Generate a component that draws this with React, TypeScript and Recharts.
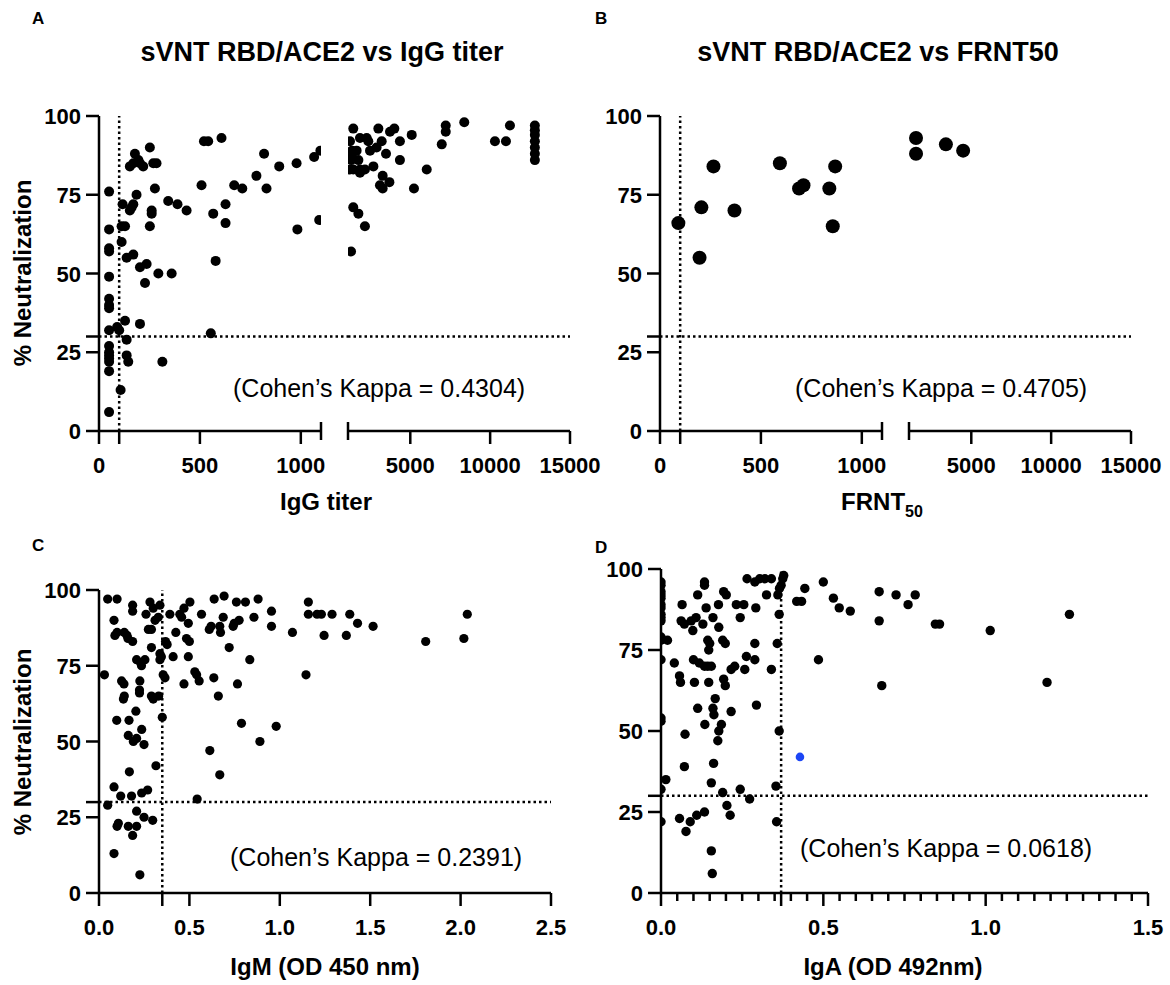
import React from 'react';
import { ScatterChart, Scatter, XAxis, YAxis, ReferenceLine } from 'recharts';

// [x, % neutralization] pairs
const iggTiterPoints: [number, number][] = [
  [50, 76], [50, 64], [50, 58], [50, 57], [50, 49], [50, 42], [50, 40], [50, 39], [50, 32],
  [50, 27], [50, 25], [50, 24], [50, 23], [50, 22], [50, 19], [50, 6],
  [90, 33], [100, 32], [112, 65], [129, 65], [117, 72], [112, 60], [137, 55], [129, 35],
  [137, 29], [137, 24], [145, 22], [107, 13], [153, 84], [178, 88], [162, 71], [170, 72],
  [153, 70], [186, 75], [195, 86], [170, 85], [203, 85], [170, 56], [203, 52], [236, 53],
  [228, 47], [219, 84], [252, 90], [269, 85], [285, 85], [277, 77], [261, 70], [261, 69],
  [252, 65], [203, 34], [294, 50], [314, 22], [343, 73], [360, 50], [389, 72], [434, 70],
  [508, 78], [520, 92], [541, 92], [554, 31], [566, 69], [578, 54], [607, 93], [627, 72],
  [627, 66], [670, 78], [710, 77], [780, 81], [818, 88], [830, 77], [893, 84], [979, 85],
  [983, 64], [1066, 87], [1097, 89], [1091, 67],
  [1430, 96], [1225, 92], [1850, 93], [2370, 92], [2270, 93], [1350, 89], [1350, 87],
  [1300, 86], [1640, 89], [1750, 86], [1430, 83], [1225, 83], [1850, 83], [1850, 82],
  [2160, 83], [2690, 84], [2480, 89], [2890, 90], [3210, 92], [3000, 96], [3730, 95],
  [4000, 96], [3480, 88], [4350, 92], [4350, 86], [5090, 94], [3270, 81], [3690, 79],
  [3100, 78], [3270, 77], [5230, 77], [6030, 83], [6970, 91], [7220, 97], [7220, 95],
  [8380, 98], [10300, 92], [10990, 92], [11240, 97],
  [12800, 97], [12800, 95.5], [12800, 94], [12800, 92], [12800, 90], [12800, 88], [12800, 86],
  [1430, 71], [1750, 69], [2160, 65], [1290, 57],
];

const frnt50Points: [number, number][] = [
  [91, 66], [205, 71], [196, 55], [265, 84], [369, 70], [594, 85], [689, 77], [711, 78],
  [839, 77], [868, 84], [856, 65], [1540, 93], [1540, 88], [3410, 91], [4490, 89],
];

const igmPoints: [number, number][] = [
  [0.048, 97], [0.1, 97], [0.03, 72], [0.083, 90], [0.088, 85], [0.1, 86], [0.14, 86],
  [0.155, 85], [0.16, 84], [0.186, 95], [0.186, 93], [0.186, 83], [0.208, 77], [0.23, 76],
  [0.235, 75], [0.254, 77], [0.26, 92], [0.282, 96], [0.3, 94], [0.31, 90], [0.29, 87],
  [0.273, 87], [0.328, 91], [0.337, 95], [0.29, 81], [0.337, 79], [0.345, 78], [0.337, 77],
  [0.368, 83], [0.377, 82], [0.392, 92], [0.41, 78], [0.355, 72], [0.365, 71], [0.425, 86],
  [0.447, 92], [0.457, 91], [0.47, 94], [0.503, 96], [0.494, 89], [0.484, 84], [0.5, 83],
  [0.494, 78], [0.47, 69], [0.53, 73], [0.54, 72], [0.554, 70], [0.567, 92], [0.61, 87],
  [0.62, 88], [0.637, 97], [0.635, 71], [0.668, 88], [0.672, 86], [0.692, 98], [0.687, 91],
  [0.66, 65], [0.72, 81], [0.742, 88], [0.748, 89], [0.76, 96], [0.775, 90], [0.766, 69],
  [0.81, 96], [0.834, 77], [0.857, 91], [0.88, 97], [0.954, 93], [0.954, 88], [1.07, 86],
  [0.788, 56], [0.89, 50], [0.98, 55], [0.613, 47], [0.668, 39], [0.543, 31],
  [0.125, 70], [0.138, 69], [0.14, 65], [0.135, 64], [0.226, 70], [0.224, 67], [0.224, 66],
  [0.29, 65], [0.3, 64], [0.33, 65], [0.204, 60], [0.098, 57], [0.166, 57], [0.162, 52],
  [0.19, 50], [0.208, 51], [0.236, 54], [0.249, 49], [0.35, 58], [0.315, 42], [0.168, 40],
  [0.083, 35], [0.12, 32], [0.048, 29], [0.18, 32], [0.236, 33], [0.269, 34], [0.1, 22],
  [0.107, 23], [0.162, 22], [0.186, 19], [0.208, 27], [0.208, 22], [0.249, 25], [0.297, 24],
  [0.083, 13], [0.226, 6],
  [1.158, 96], [1.158, 92], [1.206, 92], [1.23, 92], [1.289, 92], [1.245, 85], [1.368, 85],
  [1.387, 92], [1.43, 89], [1.516, 88], [1.807, 83], [2.018, 84], [2.037, 92], [1.145, 72],
];

const igaPoints: [number, number][] = [
  [0, 96], [0, 95], [0, 93], [0, 92], [0, 91], [0, 89], [0, 88], [0, 86], [0, 85], [0, 84],
  [0, 79], [0, 78], [0, 72], [0, 54], [0, 53], [0, 32], [0, 22],
  [0.02, 78], [0.015, 35], [0.041, 71], [0.057, 67], [0.06, 65], [0.065, 89], [0.062, 84],
  [0.072, 83], [0.093, 84], [0.108, 85], [0.098, 81], [0.113, 92], [0.1, 72], [0.118, 71],
  [0.134, 70], [0.103, 65], [0.113, 57], [0.074, 49], [0.072, 39], [0.057, 23], [0.077, 19],
  [0.09, 22], [0.11, 24], [0.134, 25], [0.129, 83], [0.134, 96], [0.134, 95], [0.139, 88],
  [0.144, 78], [0.15, 77], [0.147, 75], [0.144, 70], [0.155, 70], [0.147, 65], [0.135, 52],
  [0.16, 85], [0.167, 60], [0.16, 57], [0.163, 55], [0.162, 40], [0.155, 34], [0.155, 13],
  [0.158, 6], [0.178, 82], [0.177, 89], [0.193, 93], [0.201, 92], [0.19, 78], [0.198, 77],
  [0.186, 52], [0.178, 50], [0.175, 47], [0.193, 66], [0.198, 64], [0.19, 31], [0.203, 27],
  [0.213, 24], [0.216, 56], [0.216, 69], [0.227, 70], [0.232, 89], [0.255, 89], [0.244, 85],
  [0.244, 32], [0.263, 73], [0.289, 72], [0.258, 69], [0.273, 29], [0.265, 97], [0.289, 96],
  [0.304, 97], [0.32, 97], [0.34, 97], [0.292, 88], [0.289, 77], [0.294, 58], [0.325, 92],
  [0.34, 69], [0.36, 92], [0.365, 94], [0.37, 95], [0.375, 97], [0.378, 98], [0.364, 86],
  [0.358, 77], [0.364, 50], [0.354, 33], [0.356, 22], [0.418, 90], [0.433, 90], [0.443, 94],
  [0.485, 72], [0.5, 96], [0.531, 91], [0.549, 88], [0.583, 87], [0.672, 93], [0.672, 84],
  [0.68, 64], [0.724, 92], [0.761, 89], [0.783, 92], [0.845, 83], [0.858, 83], [1.014, 81],
  [1.189, 65], [1.258, 86],
];
const igaHighlight: [number, number][] = [[0.428, 42]];

const kappaValues = ['0.4304', '0.4705', '0.2391', '0.0618'];
const titerCutoff = 100;
const igmCutoff = 0.35;
const igaCutoff = 0.37;
const neutCutoff = 30;
const breakAt = 1100;
const titerMax = 15000;

const Y_TICKS = [0, 25, 30, 50, 75, 100];
const FONT = '"Liberation Sans", Arial, Helvetica, sans-serif';
const AXIS = { stroke: '#000', strokeWidth: 2.5 };
const DOTTED = { stroke: '#000', strokeWidth: 2.5, strokeDasharray: '2.5 3' };

const toXY = (pts: [number, number][]) => pts.map(([x, y]) => ({ x, y }));
const near = (v: number, list: number[] = []) => list.some(b => Math.abs(v - b) < 1e-9);

type TickOpts = { fmt?: (v: number) => string; hide?: number[]; minor?: number[]; caps?: number[] };

function makeXTick(o: TickOpts) {
  return (p: any) => {
    const { x, y, payload } = p;
    const v = payload.value;
    const cap = near(v, o.caps);
    const minor = near(v, o.minor);
    const showLabel = !cap && !minor && !near(v, o.hide);
    return (
      <g>
        <line x1={x} x2={x} y1={cap ? y - 9 : y} y2={y + (minor ? 8 : cap ? 9 : 13)} stroke="#000" strokeWidth={2.5} />
        {showLabel && (
          <text x={x} y={y + 42} textAnchor="middle" fontFamily={FONT} fontWeight="bold" fontSize={22} fill="#000">
            {o.fmt ? o.fmt(v) : String(v)}
          </text>
        )}
      </g>
    );
  };
}

const YTick = (p: any) => {
  const { x, y, payload } = p;
  const v = payload.value;
  return (
    <g>
      <line x1={x - 13} x2={x} y1={y} y2={y} stroke="#000" strokeWidth={2.5} />
      {v !== neutCutoff && (
        <text x={x - 18} y={y + 8} textAnchor="end" fontFamily={FONT} fontWeight="bold" fontSize={22} fill="#000">
          {v}
        </text>
      )}
    </g>
  );
};

type SegProps = {
  left: number; top: number; width: number; height: number;
  domain: [number, number]; ticks: number[]; tick: any; showY: boolean;
  points: { x: number; y: number }[]; r: number; highlight?: { x: number; y: number }[];
  children?: React.ReactNode;
};

function Segment(s: SegProps) {
  const P = 70;
  return (
    <div style={{ position: 'absolute', left: s.left - P, top: s.top - P }}>
      <ScatterChart
        width={s.width + 2 * P}
        height={s.height + 2 * P}
        margin={{ top: P, right: P, bottom: 10, left: s.showY ? 0 : P }}
      >
        <XAxis
          type="number" dataKey="x" domain={s.domain} ticks={s.ticks} interval={0}
          tick={s.tick} tickLine={false} tickSize={0} tickMargin={0} height={P - 10}
          axisLine={AXIS} allowDataOverflow
        />
        <YAxis
          type="number" dataKey="y" domain={[0, 100]} ticks={Y_TICKS} interval={0}
          tick={YTick} tickLine={false} tickSize={0} tickMargin={0} width={P}
          hide={!s.showY} axisLine={AXIS} allowDataOverflow
        />
        {s.children}
        <Scatter
          data={s.points}
          isAnimationActive={false}
          shape={(p: any) => <circle cx={p.cx} cy={p.cy} r={s.r} fill="#000" />}
        />
        {s.highlight && (
          <Scatter
            data={s.highlight}
            isAnimationActive={false}
            shape={(p: any) => <circle cx={p.cx} cy={p.cy} r={4.3} fill="#1c46f5" />}
          />
        )}
      </ScatterChart>
    </div>
  );
}

// broken titer axis: two segments of equal width with a gap between
const SEG_W = 222;
const GAP_W = 27;
const gapUnits = (GAP_W / SEG_W) * breakAt;

const loTick = makeXTick({ hide: [titerCutoff], caps: [breakAt] });
const hiTick = makeXTick({ caps: [breakAt] });
const igmTick = makeXTick({ hide: [igmCutoff], fmt: v => v.toFixed(1) });
const igaMinor = Array.from({ length: 29 }, (_, i) => +(0.05 * (i + 1)).toFixed(2)).filter(v => !near(v, [0.5, 1]));
const igaTick = makeXTick({ hide: [igaCutoff], minor: igaMinor, fmt: v => v.toFixed(1) });

function TiterPanel({ left, points, r }: { left: number; points: [number, number][]; r: number }) {
  const lo = toXY(points.filter(p => p[0] <= breakAt));
  const hi = toXY(points.filter(p => p[0] > breakAt));
  return (
    <>
      <Segment left={left} top={116} width={SEG_W} height={315} domain={[0, breakAt]}
        ticks={[0, titerCutoff, 500, 1000, breakAt]} tick={loTick} showY points={lo} r={r}>
        <ReferenceLine x={titerCutoff} {...DOTTED} />
        <ReferenceLine segment={[{ x: 0, y: neutCutoff }, { x: breakAt + gapUnits, y: neutCutoff }]} ifOverflow="visible" {...DOTTED} />
      </Segment>
      <Segment left={left + SEG_W + GAP_W} top={116} width={SEG_W} height={315} domain={[breakAt, titerMax]}
        ticks={[breakAt, 5000, 10000, titerMax]} tick={hiTick} showY={false} points={hi} r={r}>
        <ReferenceLine y={neutCutoff} {...DOTTED} />
      </Segment>
    </>
  );
}

const T = { fontFamily: FONT, fill: '#000' };

export default function App() {
  return (
    <div style={{ position: 'relative', width: 1170, height: 985, background: '#fff', overflow: 'hidden' }}>
      <style>{'body{margin:0}'}</style>
      <TiterPanel left={99} points={iggTiterPoints} r={5} />
      <TiterPanel left={660} points={frnt50Points} r={7} />
      <Segment left={99} top={590} width={452} height={303} domain={[0, 2.5]}
        ticks={[0, igmCutoff, 0.5, 1, 1.5, 2, 2.5]} tick={igmTick} showY points={toXY(igmPoints)} r={4.6}>
        <ReferenceLine x={igmCutoff} {...DOTTED} />
        <ReferenceLine y={neutCutoff} {...DOTTED} />
      </Segment>
      <Segment left={661} top={569} width={487} height={324} domain={[0, 1.5]}
        ticks={[0, ...igaMinor, igaCutoff, 0.5, 1, 1.5].sort((a, b) => a - b)} tick={igaTick} showY
        points={toXY(igaPoints)} r={4.7} highlight={toXY(igaHighlight)}>
        <ReferenceLine x={igaCutoff} {...DOTTED} />
        <ReferenceLine y={neutCutoff} {...DOTTED} />
      </Segment>

      <svg width={1170} height={985} style={{ position: 'absolute', left: 0, top: 0, pointerEvents: 'none' }}>
        <g {...T} fontWeight="bold" fontSize={17}>
          <text x={32} y={24}>A</text>
          <text x={595} y={24}>B</text>
          <text x={32} y={551}>C</text>
          <text x={595} y={553}>D</text>
        </g>
        <g {...T} fontWeight="bold" fontSize={27} textAnchor="middle">
          <text x={322} y={61}>sVNT RBD/ACE2 vs IgG titer</text>
          <text x={878} y={61}>sVNT RBD/ACE2 vs FRNT50</text>
        </g>
        <g {...T} fontWeight="bold" fontSize={24} textAnchor="middle">
          <text transform="translate(31,273) rotate(-90)">% Neutralization</text>
          <text transform="translate(31,742) rotate(-90)">% Neutralization</text>
          <text x={326} y={510}>IgG titer</text>
          <text x={882} y={510}>FRNT<tspan fontSize={16} dy={7}>50</tspan></text>
          <text x={325} y={975}>IgM (OD 450 nm)</text>
          <text x={893} y={975}>IgA (OD 492nm)</text>
        </g>
        <g {...T} fontSize={25}>
          <text x={233} y={397}>(Cohen’s Kappa = {kappaValues[0]})</text>
          <text x={795} y={397}>(Cohen’s Kappa = {kappaValues[1]})</text>
          <text x={230} y={866}>(Cohen’s Kappa = {kappaValues[2]})</text>
          <text x={800} y={857}>(Cohen’s Kappa = {kappaValues[3]})</text>
        </g>
      </svg>
    </div>
  );
}
